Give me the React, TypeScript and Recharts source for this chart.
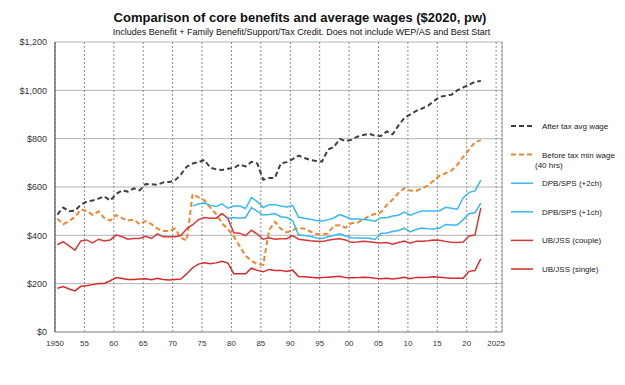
import React from 'react';
import {
  LineChart,
  Line,
  XAxis,
  YAxis,
  CartesianGrid,
  ReferenceLine,
} from 'recharts';

const FONT = 'Arial, "Liberation Sans", sans-serif';

// annual values, 1950 .. 2022 ($2020 per week)
const FIRST_YEAR = 1950;

const afterTaxAvgWage = [
  486, 515, 500, 502, 527, 540, 544, 552, 561, 544,
  571, 586, 581, 594, 586, 612, 611, 609, 619, 621,
  627, 652, 684, 697, 703, 712, 680, 673, 670, 676,
  678, 693, 685, 704, 697, 630, 637, 638, 698, 703,
  715, 730, 720, 712, 708, 705, 755, 765, 799, 790,
  795, 808, 815, 820, 812, 811, 830, 818, 855, 886,
  900, 915, 925, 936, 955, 973, 978, 982, 1000, 1012,
  1023, 1035, 1039,
];

const beforeTaxMinWage = [
  469, 446, 459, 477, 506, 502, 484, 499, 471, 461,
  484, 471, 461, 465, 446, 459, 446, 428, 418, 418,
  428, 390, 378, 571, 557, 545, 515, 488, 450, 425,
  395, 355, 315, 295, 281, 278, 422, 456, 427, 412,
  421, 431, 427, 416, 406, 405, 407, 440, 442, 432,
  450, 452, 465, 480, 488, 495, 525, 548, 575, 595,
  585, 584, 595, 606, 627, 647, 657, 668, 692, 725,
  755, 785, 794,
];

// DPB/SPS (+2ch) from 1973
const DPB2_FROM = 1973;
const dpbTwoChildren = [
  522, 530, 534, 524, 519, 530, 512,
  521, 521, 511, 556, 540, 515, 527, 527, 521, 517,
  524, 476, 471, 467, 461, 459, 465, 472, 486, 477,
  468, 468, 466, 463, 458, 473, 473, 480, 483, 496,
  483, 493, 501, 501, 501, 502, 516, 512, 508, 555,
  578, 584, 628,
];

// DPB/SPS (+1ch) from 1979
const DPB1_FROM = 1979;
const dpbOneChild = [
  471,
  474, 471, 474, 515, 499, 484, 486, 490, 477, 474,
  460, 402, 399, 396, 389, 387, 394, 399, 406, 397,
  390, 389, 389, 388, 383, 408, 410, 416, 420, 430,
  414, 424, 430, 427, 426, 430, 445, 443, 443, 465,
  489, 493, 533,
];

const ubCouple = [
  361, 374, 356, 339, 377, 381, 369, 384, 377, 381,
  402, 394, 384, 387, 387, 396, 387, 406, 394, 394,
  394, 399, 427, 444, 465, 474, 471, 471, 490, 470,
  411, 409, 399, 421, 405, 384, 390, 384, 386, 386,
  399, 384, 381, 378, 376, 374, 380, 384, 386, 381,
  371, 372, 375, 373, 370, 368, 370, 363, 370, 376,
  367, 376, 376, 378, 381, 380, 375, 371, 370, 372,
  397, 401, 514,
];

const ubSingle = [
  181, 188, 178, 170, 189, 191, 196, 201, 201, 212,
  225, 221, 217, 217, 219, 220, 216, 222, 217, 215,
  217, 219, 241, 266, 281, 286, 282, 286, 293, 285,
  241, 241, 241, 264, 255, 249, 259, 255, 255, 250,
  256, 230, 229, 227, 224, 225, 227, 229, 231, 225,
  224, 225, 227, 226, 222, 220, 222, 219, 222, 226,
  220, 226, 226, 227, 229, 227, 224, 222, 222, 222,
  251, 254, 303,
];

const xTicks = [1950, 1955, 1960, 1965, 1970, 1975, 1980, 1985, 1990, 1995, 2000, 2005, 2010, 2015, 2020, 2025];
const yTicks = [0, 200, 400, 600, 800, 1000, 1200];

// each annual value sits a little into its year on the date axis
const YEAR_OFFSET = 0.4;

const series = [
  { key: 'wage', name: 'After tax avg wage', color: '#404040', dash: '5 3', width: 2 },
  { key: 'minWage', name: 'Before tax min wage', name2: '(40 hrs)', color: '#f0862e', dash: '5 3', width: 2 },
  { key: 'dpb2', name: 'DPB/SPS (+2ch)', color: '#35b9ef', width: 1.5 },
  { key: 'dpb1', name: 'DPB/SPS (+1ch)', color: '#35b9ef', width: 1.5 },
  { key: 'couple', name: 'UB/JSS (couple)', color: '#d63838', width: 1.5 },
  { key: 'single', name: 'UB/JSS (single)', color: '#d42a2a', width: 1.5 },
];

const data = afterTaxAvgWage.map((_, i) => {
  const year = FIRST_YEAR + i;
  return {
    x: year + YEAR_OFFSET,
    wage: afterTaxAvgWage[i],
    minWage: beforeTaxMinWage[i],
    dpb2: year >= DPB2_FROM ? dpbTwoChildren[year - DPB2_FROM] : null,
    dpb1: year >= DPB1_FROM ? dpbOneChild[year - DPB1_FROM] : null,
    couple: ubCouple[i],
    single: ubSingle[i],
  };
});

function formatYear(v: number) {
  if (v === 1950 || v === 2025) return String(v);
  return String(v % 100).padStart(2, '0');
}

function formatDollars(v: number) {
  return '$' + v.toLocaleString('en-US');
}

function ChartLegend() {
  return (
    <svg width={120} height={170} style={{ position: 'absolute', left: 505, top: 112 }}>
      {series.map((s, i) => {
        const y = 14 + i * 28.6;
        return (
          <g key={s.key}>
            <line
              x1={6}
              x2={28}
              y1={y}
              y2={y}
              stroke={s.color}
              strokeWidth={s.width}
              strokeDasharray={s.dash}
            />
            <text x={37} y={y + 3} fontSize={8} fill="#222" fontFamily={FONT}>
              {s.name}
            </text>
            {s.name2 && (
              <text x={30} y={y + 13} fontSize={8} fill="#222" fontFamily={FONT}>
                {s.name2}
              </text>
            )}
          </g>
        );
      })}
    </svg>
  );
}

export default function App() {
  return (
    <div style={{ position: 'absolute', left: 0, top: 0, width: 625, height: 385, background: '#fff', fontFamily: FONT }}>
      <div style={{ position: 'absolute', left: 0, width: 600, top: 10, textAlign: 'center', fontSize: 13, fontWeight: 'bold', color: '#111' }}>
        Comparison of core benefits and average wages ($2020, pw)
      </div>
      <div style={{ position: 'absolute', left: 0, width: 603, top: 27, textAlign: 'center', fontSize: 9, color: '#111' }}>
        Includes Benefit + Family Benefit/Support/Tax Credit. Does not include WEP/AS and Best Start
      </div>
      <LineChart
        width={625}
        height={385}
        data={data}
        margin={{ top: 42, right: 123, bottom: 23, left: 0 }}
        style={{ position: 'absolute', left: 0, top: 0 }}
      >
        <CartesianGrid horizontal vertical={false} stroke="#b4b4b4" />
        <CartesianGrid horizontal={false} vertical stroke="#8a8a8a" strokeDasharray="2 2" />
        <XAxis
          type="number"
          dataKey="x"
          domain={[1950, 2026]}
          ticks={xTicks}
          tickFormatter={formatYear}
          interval={0}
          tickLine={false}
          axisLine={{ stroke: '#a0a0a0' }}
          tick={{ fontSize: 8, fill: '#333', fontFamily: FONT }}
        />
        <YAxis
          domain={[0, 1200]}
          ticks={yTicks}
          tickFormatter={formatDollars}
          interval={0}
          width={55}
          tickLine={false}
          axisLine={{ stroke: '#707070', strokeWidth: 1.5 }}
          tick={{ fontSize: 9, fill: '#333', fontFamily: FONT }}
        />
        <ReferenceLine x={2026} stroke="#a0a0a0" />
        {series.map((s) => (
          <Line
            key={s.key}
            type="linear"
            dataKey={s.key}
            name={s.name}
            stroke={s.color}
            strokeWidth={s.width}
            strokeDasharray={s.dash}
            dot={false}
            activeDot={false}
            isAnimationActive={false}
          />
        ))}
      </LineChart>
      <ChartLegend />
    </div>
  );
}
